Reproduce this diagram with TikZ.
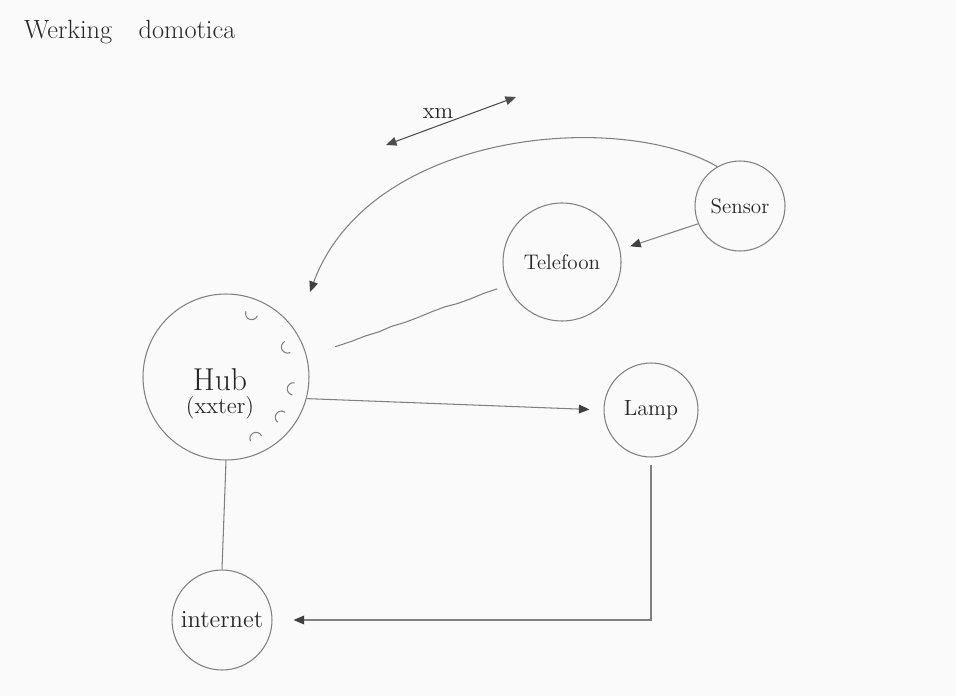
\documentclass[tikz,border=0pt]{standalone}
\usepackage{tikz}
\usetikzlibrary{calc,arrows.meta,decorations.pathmorphing}
\tikzset{
	bubble/.style={draw=black!50, line width=0.6pt, circle, inner sep=0pt, align=center, text=black!85, font=\fontsize{12}{14}\selectfont},
	pencil/.style={draw=black!50, line width=0.6pt},
	tip/.style={pencil, -{Triangle[length=6pt, width=5pt, color=black!75]}},
	shaky/.style={decorate, decoration={random steps, segment length=8pt, amplitude=0.4pt}}
}
\def\signalarc(#1)(#2){\draw[pencil] ($(#1)+(#2+90:3.5pt)$) arc[start angle=#2+90, end angle=#2+270, radius=3.5pt];}

\begin{document}
\begin{tikzpicture}[x=0.02cm, y=-0.02cm]
		%%%%% START %%%%%
		\fill[black!2] (0,0) rectangle (956,696);
		\node[anchor=west, text=black!85, font=\fontsize{15}{16}\selectfont] (title) at (18,32) {Werking\quad domotica};
		
		\node[bubble, minimum size=3.32cm] (hub) at (226,377) {};
		\node[align=center, inner sep=0pt, text=black!85] (hubtext) at (220,394) {{\fontsize{18}{20}\selectfont Hub}\\[1pt]{\fontsize{13}{14}\selectfont (xxter)}};
		\node[bubble, minimum size=2.36cm] (telefoon) at (562,262) {Telefoon};
		\node[bubble, minimum size=1.8cm] (sensor) at (740,206) {Sensor};
		\node[bubble, minimum size=1.88cm, font=\fontsize{12.5}{14}\selectfont] (lamp) at (651,410) {Lamp};
		\node[bubble, minimum size=2cm, font=\fontsize{14}{16}\selectfont] (internet) at (222,620) {internet};
		
		\foreach \a in {68,26,-10,-36,-64} {
			\coordinate (mark) at ($(hub.center)!0.82!(hub.\a)$);
			\signalarc(mark)(\a)
		}
		
		\coordinate (hubin) at (310,292);
		\draw[tip] (sensor.120) .. controls (620,110) and (370,130) .. (hubin);
		\draw[tip, shorten >=6pt] (sensor.203) -- (telefoon.12);
		\draw[pencil, shaky] ($(telefoon.203)!6pt!(hub.14)$) -- ($(hub.14)!17pt!(telefoon.203)$);
		\draw[tip, shorten >=8pt] (hub.-15) -- (lamp.west);
		\draw[tip, shorten <=4pt, shorten >=12pt] (lamp.south) |- (internet.east);
		\draw[pencil] (hub.south) -- (internet.north);
		
		\coordinate (xmL) at (386,145);
		\coordinate (xmR) at (516,97);
		\draw[draw=black!70, line width=0.6pt, {Triangle[length=6pt, width=5pt]}-{Triangle[length=6pt, width=5pt]}] (xmL) -- node[pos=0.4, above=3pt, inner sep=1pt, text=black!85, font=\fontsize{13}{14}\selectfont] (xm) {xm} (xmR);
		%%%%% END %%%%%
\end{tikzpicture}
\end{document}
